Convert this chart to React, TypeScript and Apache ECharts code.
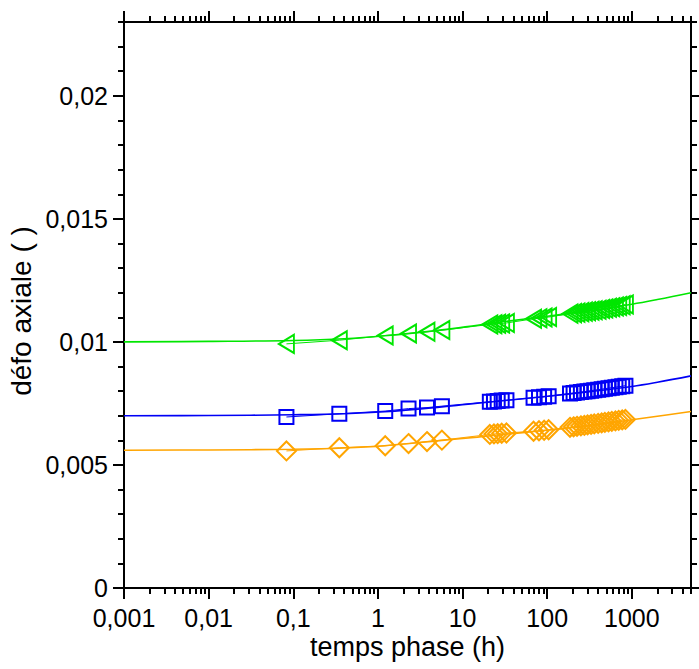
import React, { useEffect, useRef } from 'react';
import * as echarts from 'echarts';

// ---- data ----
const timesH = [0.083, 0.35, 1.22, 2.3, 3.8, 5.7, 21, 23.5, 26, 29, 33, 69, 80, 92, 104, 186, 205, 225, 250, 275, 300, 330, 360, 400, 440, 480, 530, 580, 640, 700, 770, 840];
const greenPts = [0.00992, 0.01007, 0.01026, 0.01034, 0.01041, 0.01048, 0.01071, 0.01072, 0.01074, 0.01075, 0.01077, 0.01094, 0.01096, 0.01099, 0.01101, 0.01115, 0.01117, 0.01119, 0.01121, 0.01123, 0.01125, 0.01127, 0.01129, 0.01131, 0.01134, 0.01136, 0.01139, 0.01141, 0.01144, 0.01146, 0.01149, 0.01152];
const bluePts = [0.00695, 0.00708, 0.00719, 0.00729, 0.00733, 0.00739, 0.00757, 0.00758, 0.0076, 0.00762, 0.00763, 0.00773, 0.00775, 0.00777, 0.00779, 0.0079, 0.00792, 0.00794, 0.00796, 0.00798, 0.008, 0.00802, 0.00804, 0.00806, 0.00808, 0.0081, 0.00812, 0.00814, 0.00816, 0.00818, 0.0082, 0.00822];
const orangePts = [0.00557, 0.0057, 0.00578, 0.00587, 0.00595, 0.00601, 0.00624, 0.00626, 0.00627, 0.00629, 0.0063, 0.00637, 0.00639, 0.00641, 0.00643, 0.00653, 0.00655, 0.00657, 0.00659, 0.00661, 0.00663, 0.00665, 0.00667, 0.00669, 0.00671, 0.00673, 0.00675, 0.00677, 0.00679, 0.00681, 0.00683, 0.00685];

const fitTimes = [0.001, 0.01, 0.1, 0.4, 1.2, 5.7, 15, 30, 100, 300, 1000, 2000, 5000];
const fitGreen = [0.01, 0.01002, 0.01006, 0.01013, 0.01025, 0.01049, 0.01068, 0.01082, 0.01104, 0.01126, 0.01153, 0.01172, 0.012];
const fitBlue = [0.007, 0.00701, 0.00704, 0.00708, 0.00716, 0.00736, 0.00751, 0.00761, 0.00779, 0.00797, 0.00819, 0.00836, 0.00862];
const fitOrange = [0.0056, 0.00561, 0.00564, 0.00569, 0.00578, 0.006, 0.00613, 0.00624, 0.00641, 0.0066, 0.00684, 0.00698, 0.00717];

const xMajorTicks = [0.001, 0.01, 0.1, 1, 10, 100, 1000];
const xMinorTicks = [
  0.002, 0.003, 0.004, 0.005, 0.006, 0.007, 0.008, 0.009,
  0.02, 0.03, 0.04, 0.05, 0.06, 0.07, 0.08, 0.09,
  0.2, 0.3, 0.4, 0.5, 0.6, 0.7, 0.8, 0.9,
  2, 3, 4, 5, 6, 7, 8, 9,
  20, 30, 40, 50, 60, 70, 80, 90,
  200, 300, 400, 500, 600, 700, 800, 900,
  2000, 3000, 4000, 5000,
];
const yMajorTicks = [0, 0.005, 0.01, 0.015, 0.02];
const yMinorTicks = [0.001, 0.002, 0.003, 0.004, 0.006, 0.007, 0.008, 0.009, 0.011, 0.012, 0.013, 0.014, 0.016, 0.017, 0.018, 0.019, 0.021, 0.022, 0.023];

const X_MIN = 0.001;
const X_MAX = 5000;
const Y_MIN = 0;
const Y_MAX = 0.023;

const GREEN = '#00e600';
const BLUE = '#0000f5';
const ORANGE = '#ffa500';
const FONT = "'Liberation Sans', Arial, Helvetica, sans-serif";

const fmt = (v: number) => String(parseFloat(Number(v).toPrecision(6))).replace('.', ',');

function xAxisDef(grid: number, position: 'top' | 'bottom', ticks: number[], major: boolean, showLine: boolean, showLabel: boolean) {
  return {
    type: 'log',
    logBase: 10,
    min: X_MIN,
    max: X_MAX,
    position,
    gridIndex: grid,
    axisLine: { show: showLine, onZero: false, lineStyle: { color: '#000', width: 2 } },
    axisTick: { show: true, customValues: ticks, length: major ? 11 : 6, lineStyle: { color: '#000', width: 2 } },
    axisLabel: {
      show: showLabel,
      customValues: showLabel ? ticks : undefined,
      formatter: (v: number) => fmt(v),
      fontSize: 25,
      fontFamily: FONT,
      color: '#000',
      margin: 17,
    },
    splitLine: { show: false },
    minorTick: { show: false },
  };
}

function yAxisDef(grid: number, position: 'left' | 'right', ticks: number[], major: boolean, showLine: boolean, showLabel: boolean) {
  return {
    type: 'value',
    min: Y_MIN,
    max: Y_MAX,
    position,
    gridIndex: grid,
    axisLine: { show: showLine, onZero: false, lineStyle: { color: '#000', width: 2 } },
    axisTick: { show: true, customValues: ticks, length: major ? 11 : 6, lineStyle: { color: '#000', width: 2 } },
    axisLabel: {
      show: showLabel,
      customValues: showLabel ? ticks : undefined,
      formatter: (v: number) => fmt(v),
      fontSize: 25,
      fontFamily: FONT,
      color: '#000',
      margin: 16,
    },
    splitLine: { show: false },
    minorTick: { show: false },
  };
}

function pairs(xs: number[], ys: number[]) {
  return xs.map((x, i) => [x, ys[i]]);
}

function fitSeries(name: string, color: string, ys: number[]) {
  return {
    name,
    type: 'line',
    xAxisIndex: 0,
    yAxisIndex: 0,
    data: pairs(fitTimes, ys),
    smooth: 0.4,
    showSymbol: false,
    symbol: 'none',
    lineStyle: { color, width: 1.6 },
    z: 2,
  };
}

function dataSeries(name: string, color: string, ys: number[], symbol: string, size: any, rotate: number) {
  return {
    name,
    type: 'line',
    xAxisIndex: 0,
    yAxisIndex: 0,
    data: pairs(timesH, ys),
    symbol,
    symbolSize: size,
    symbolRotate: rotate,
    showSymbol: true,
    lineStyle: { color, width: 1 },
    itemStyle: { color: 'rgba(0,0,0,0)', borderColor: color, borderWidth: 2 },
    z: 3,
  };
}

export default function App() {
  const ref = useRef<HTMLDivElement>(null);
  useEffect(() => {
    if (!ref.current) return;
    const chart = echarts.init(ref.current, null, { renderer: 'svg' });
    const gridRect = { left: 124, right: 8, top: 22, bottom: 81, containLabel: false, outerBoundsMode: 'none' };
    const option: any = {
      animation: false,
      backgroundColor: '#fff',
      grid: [gridRect, { ...gridRect }],
      xAxis: [
        xAxisDef(0, 'bottom', xMajorTicks, true, true, true),
        xAxisDef(0, 'top', xMajorTicks, true, true, false),
        xAxisDef(1, 'bottom', xMinorTicks, false, false, false),
        xAxisDef(1, 'top', xMinorTicks, false, false, false),
      ],
      yAxis: [
        yAxisDef(0, 'left', yMajorTicks, true, true, true),
        yAxisDef(0, 'right', yMajorTicks, true, true, false),
        yAxisDef(1, 'left', yMinorTicks, false, false, false),
        yAxisDef(1, 'right', yMinorTicks, false, false, false),
      ],
      series: [
        fitSeries('fit-green', GREEN, fitGreen),
        fitSeries('fit-blue', BLUE, fitBlue),
        fitSeries('fit-orange', ORANGE, fitOrange),
        dataSeries('green', GREEN, greenPts, 'triangle', [18, 15], 90),
        dataSeries('blue', BLUE, bluePts, 'rect', 14, 0),
        dataSeries('orange', ORANGE, orangePts, 'diamond', 19, 0),
      ],
      graphic: [
        {
          type: 'text',
          x: 407.5,
          y: 647,
          style: {
            text: 'temps phase (h)',
            font: `27px ${FONT}`,
            fill: '#000',
            textAlign: 'center',
            textVerticalAlign: 'middle',
          },
        },
        {
          type: 'text',
          x: 21,
          y: 311,
          rotation: Math.PI / 2,
          style: {
            text: 'défo axiale ( )',
            font: `28px ${FONT}`,
            fill: '#000',
            textAlign: 'center',
            textVerticalAlign: 'middle',
          },
        },
      ],
    };
    chart.setOption(option);
    return () => chart.dispose();
  }, []);
  return <div ref={ref} style={{ position: 'fixed', left: 0, top: 0, width: 699, height: 669 }} />;
}
